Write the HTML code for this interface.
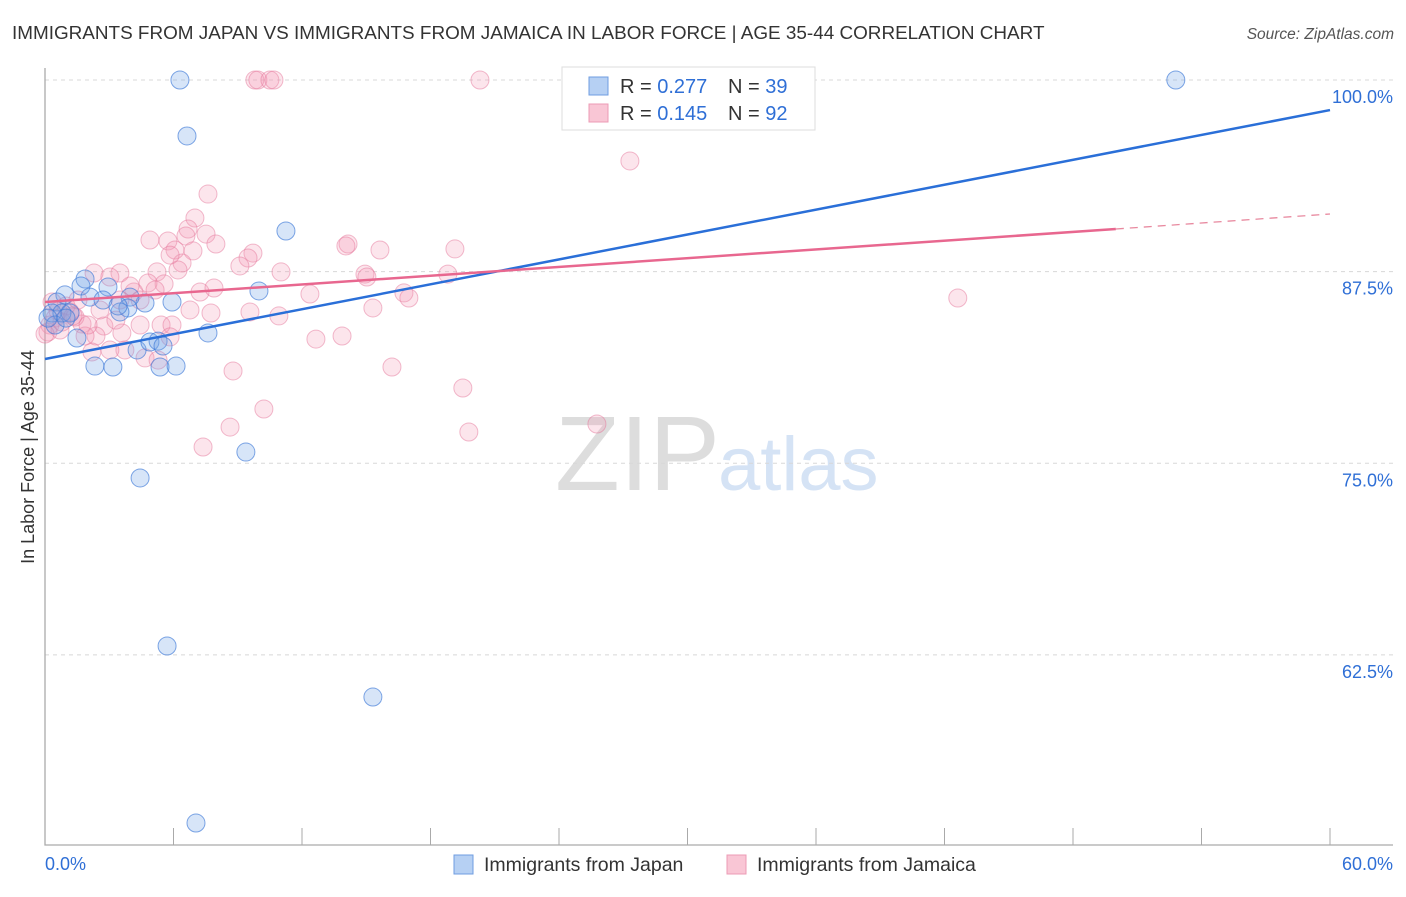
<!DOCTYPE html>
<html><head><meta charset="utf-8"><style>
body{margin:0;background:#fff;font-family:"Liberation Sans",sans-serif}
svg text{font-family:"Liberation Sans",sans-serif}
</style></head><body>
<svg id="chart" width="1406" height="892" xmlns="http://www.w3.org/2000/svg">
<text x="12" y="39" font-size="18.9" fill="#333">IMMIGRANTS FROM JAPAN VS IMMIGRANTS FROM JAMAICA IN LABOR FORCE | AGE 35-44 CORRELATION CHART</text>
<text x="1394" y="39" font-size="15.5" fill="#555" font-style="italic" text-anchor="end">Source: ZipAtlas.com</text>
<text x="555" y="490" font-size="106" fill="#ddd" font-family="Liberation Serif,serif">ZIP</text>
<text x="718" y="490" font-size="76" fill="#d5e3f5">atlas</text>
<g id="grid"></g><g id="axes"></g><g id="pts"></g><g id="trends"></g>
<text transform="translate(34,457) rotate(-90)" font-size="18" fill="#333" text-anchor="middle">In Labor Force | Age 35-44</text>
<g>
<rect x="562" y="67" width="253" height="63" fill="#fff" stroke="#ddd"/>
<rect x="589" y="77" width="19" height="18" fill="#b6d0f3" stroke="#6f9de0"/>
<rect x="589" y="104" width="19" height="18" fill="#f9c6d5" stroke="#ec9bb5"/>
<text x="620" y="93" font-size="20" fill="#333">R = <tspan fill="#2f6fd6">0.277</tspan><tspan x="728">N = </tspan><tspan fill="#2f6fd6">39</tspan></text>
<text x="620" y="120" font-size="20" fill="#333">R = <tspan fill="#2f6fd6">0.145</tspan><tspan x="728">N = </tspan><tspan fill="#2f6fd6">92</tspan></text>
</g>
<g>
<rect x="454" y="855" width="19" height="19" fill="#b6d0f3" stroke="#6f9de0"/>
<text x="484" y="871" font-size="19.5" fill="#333">Immigrants from Japan</text>
<rect x="727" y="855" width="19" height="19" fill="#f9c6d5" stroke="#ec9bb5"/>
<text x="757" y="871" font-size="19.5" fill="#333">Immigrants from Jamaica</text>
</g>
</svg>
<script>
const xTicks=[0,6,12,18,24,30,36,42,48,54,60];
const yTicks=[100,87.5,75,62.5];
const yTickLabels=["100.0%","87.5%","75.0%","62.5%"];
const japanX=[6.30,6.63,52.8,11.25,9.99,7.61,5.93,4.67,3.97,3.87,3.50,2.94,1.87,1.68,0.93,0.56,0.33,0.79,1.17,1.49,2.33,3.17,4.30,4.90,5.28,5.51,5.37,6.12,4.44,9.38,5.70,15.31,7.05,2.10,2.71,3.41,0.47,0.14,0.98];
const japanY=[100,96.35,100,90.15,86.24,83.50,85.52,85.45,85.84,85.13,84.87,86.50,87.02,86.56,85.98,85.52,84.80,84.80,84.80,83.17,81.34,81.28,82.39,82.91,82.97,82.65,81.28,81.34,74.04,75.73,63.08,59.75,51.53,85.84,85.65,85.26,84.02,84.47,84.47];
const jamaicaX=[9.80,9.94,10.50,10.69,20.31,27.31,7.61,7.00,6.68,6.58,7.52,4.90,5.74,6.07,6.91,7.98,9.71,9.48,9.10,6.40,6.21,5.23,3.50,2.29,3.03,5.56,4.15,7.24,7.89,11.02,12.37,14.15,14.05,15.64,19.14,18.81,14.94,15.03,16.76,16.99,15.31,9.57,7.75,10.92,12.65,13.87,16.20,19.51,19.79,25.77,42.62,8.78,10.22,8.64,7.38,5.42,5.93,4.44,3.59,2.75,1.73,1.40,1.17,0.61,0.47,0.23,0.14,0.70,2.38,3.73,4.67,3.03,2.19,3.97,4.81,3.31,2.57,1.87,0.98,1.54,4.44,5.84,5.28,6.77,0.33,0.79,1.31,2.01,5.84,3.50,5.14,0];
const jamaicaY=[100,100,100,100,100,94.72,92.56,91.00,90.28,89.82,89.95,89.56,89.50,88.91,88.85,89.30,88.71,88.39,87.87,88.06,87.61,87.48,87.41,87.41,87.15,86.70,86.17,86.17,86.43,87.48,86.04,89.30,89.17,88.91,88.98,87.34,87.34,87.15,86.11,85.78,85.13,84.87,84.80,84.61,83.10,83.30,81.28,79.91,77.04,77.56,85.78,81.02,78.54,77.36,76.06,84.02,84.02,84.02,83.50,83.95,84.08,84.54,84.87,84.93,84.47,84.02,83.56,83.69,83.30,82.39,81.87,82.39,82.26,86.56,86.76,84.34,85.00,83.30,85.26,85.65,85.65,83.24,81.73,85.00,85.52,84.21,84.61,84.02,88.58,85.65,86.30,83.43];
const japanTrendX=[0,60];
const japanTrendY=[81.80,98.04];
const jamaicaTrendX=[0,50,60];
const jamaicaTrendY=[85.52,90.28,91.26];

const NS="http://www.w3.org/2000/svg";
const X=v=>45+v*(1285/60);
const Y=v=>80+(100-v)*15.33;
function mk(t,a,p){const e=document.createElementNS(NS,t);for(const k in a)e.setAttribute(k,a[k]);p.appendChild(e);return e;}
const grid=document.getElementById('grid'),axes=document.getElementById('axes'),pts=document.getElementById('pts'),tr=document.getElementById('trends');
yTicks.forEach((v,i)=>{
  const l=mk('line',{x1:45,x2:1393,y1:Y(v),y2:Y(v),stroke:'#d8d8d8','stroke-dasharray':'4,4'},grid);
  
  
  const t=mk('text',{x:1393,y:Y(v)+23,'font-size':18,fill:'#2f6fd6','text-anchor':'end'},grid);
  
  
  t.textContent=yTickLabels[i];
});
const ax=mk('path',{d:'M45,68 V845 H1393',fill:'none',stroke:'#aaa','stroke-width':1.3},axes);


xTicks.forEach(v=>{
  if(v===0)return;
  const l=mk('line',{x1:X(v),x2:X(v),y1:828,y2:845,stroke:'#aaa'},axes);
  
  
});
const xl0=mk('text',{x:45,y:870,'font-size':18,fill:'#2f6fd6'},axes);


xl0.textContent='0.0%';
const xl1=mk('text',{x:1393,y:870,'font-size':18,fill:'#2f6fd6','text-anchor':'end'},axes);


xl1.textContent='60.0%';
jamaicaX.forEach((v,i)=>{
  const c=mk('circle',{cx:X(v),cy:Y(jamaicaY[i]),r:9,fill:'rgba(244,150,180,0.25)',stroke:'rgba(230,120,155,0.5)'},pts);
  
  
});
japanX.forEach((v,i)=>{
  const c=mk('circle',{cx:X(v),cy:Y(japanY[i]),r:9,fill:'rgba(110,160,230,0.28)',stroke:'rgba(60,120,215,0.65)'},pts);
  
  
});
const bl=mk('line',{x1:X(japanTrendX[0]),y1:Y(japanTrendY[0]),x2:X(japanTrendX[1]),y2:Y(japanTrendY[1]),stroke:'#2a6fd8','stroke-width':2.5},tr);


const pl=mk('line',{x1:X(jamaicaTrendX[0]),y1:Y(jamaicaTrendY[0]),x2:X(jamaicaTrendX[1]),y2:Y(jamaicaTrendY[1]),stroke:'#e8678f','stroke-width':2.5},tr);


const pd=mk('line',{x1:X(jamaicaTrendX[1]),y1:Y(jamaicaTrendY[1]),x2:X(jamaicaTrendX[2]),y2:Y(jamaicaTrendY[2]),stroke:'#e8899f','stroke-width':1.3,'stroke-dasharray':'8,6'},tr);


</script>
</body></html>
